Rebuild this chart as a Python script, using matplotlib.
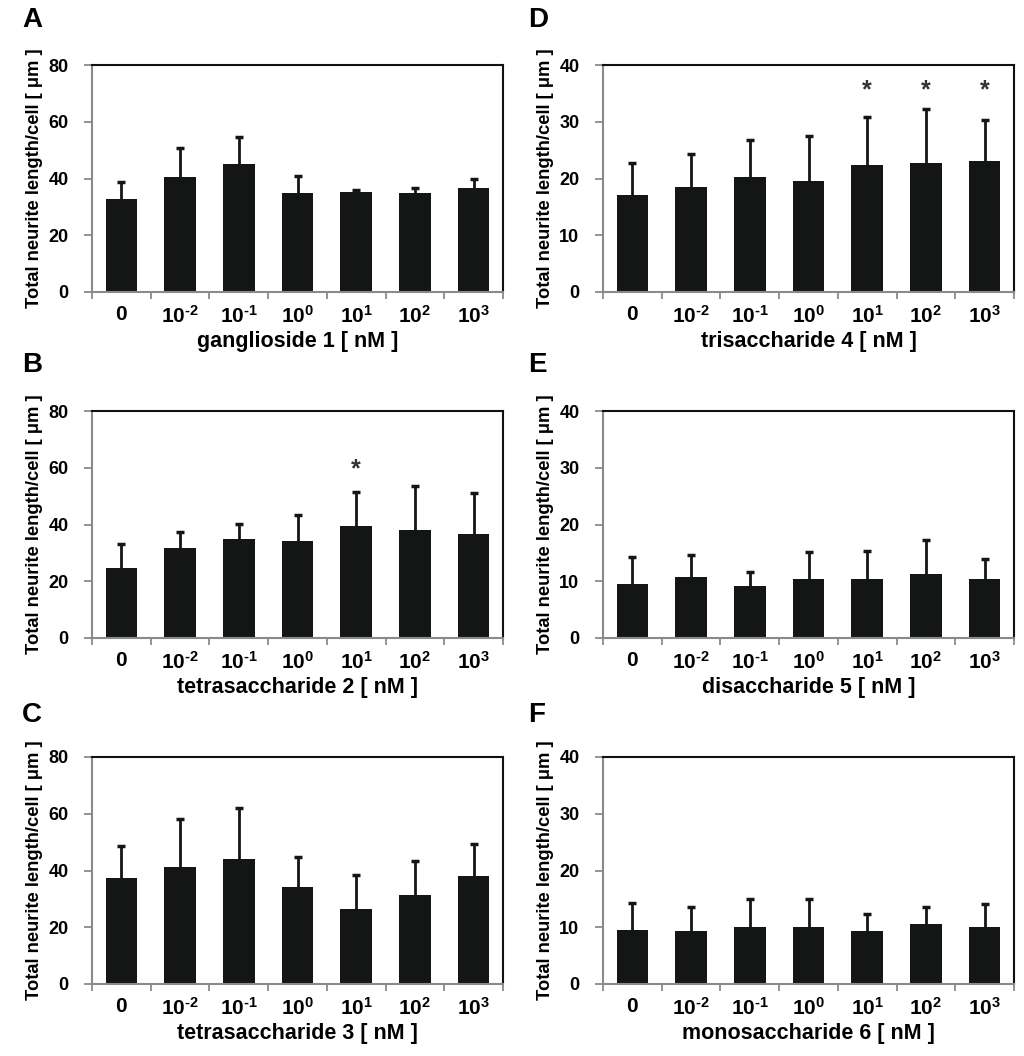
import numpy as np
import matplotlib
matplotlib.use("Agg")
import matplotlib.pyplot as plt

plt.rcParams['font.family'] = ['Liberation Sans', 'DejaVu Sans']
plt.rcParams['font.weight'] = 'bold'
plt.rcParams['axes.labelweight'] = 'bold'
plt.rcParams['mathtext.fontset'] = 'custom'
plt.rcParams['mathtext.rm'] = 'Liberation Sans:bold'
plt.rcParams['mathtext.bf'] = 'Liberation Sans:bold'
plt.rcParams['mathtext.it'] = 'Liberation Sans:bold'
plt.rcParams['mathtext.default'] = 'regular'

conc_labels = ['0', r'10$^{\text{-2}}$', r'10$^{\text{-1}}$', r'10$^{0}$',
               r'10$^{1}$', r'10$^{2}$', r'10$^{3}$']

# means and tops of the (upper only) error bars
mean_A = [32.8, 40.4, 45.1, 34.8, 35.3, 34.8, 36.7]
top_A = [38.8, 50.8, 54.8, 40.9, 36.1, 36.5, 39.9]
mean_B = [24.7, 31.7, 35.0, 34.1, 39.3, 37.9, 36.6]
top_B = [33.2, 37.3, 40.2, 43.2, 51.3, 53.5, 51.0]
mean_C = [37.4, 41.3, 44.1, 34.1, 26.5, 31.4, 38.0]
top_C = [48.7, 58.2, 62.2, 44.6, 38.5, 43.5, 49.2]
mean_D = [17.1, 18.5, 20.2, 19.5, 22.4, 22.8, 23.0]
top_D = [22.7, 24.3, 26.7, 27.5, 30.9, 32.2, 30.3]
mean_E = [9.5, 10.7, 9.1, 10.4, 10.4, 11.2, 10.4]
top_E = [14.2, 14.7, 11.7, 15.2, 15.4, 17.3, 14.0]
mean_F = [9.5, 9.4, 10.0, 10.0, 9.4, 10.5, 10.0]
top_F = [14.2, 13.5, 14.9, 14.9, 12.3, 13.5, 14.1]

stars_B = [4]
stars_D = [4, 5, 6]

panels = [
    ('A', 'ganglioside 1 [ nM ]', mean_A, top_A, 80, [], 0),
    ('B', 'tetrasaccharide 2 [ nM ]', mean_B, top_B, 80, stars_B, 59.5),
    ('C', 'tetrasaccharide 3 [ nM ]', mean_C, top_C, 80, [], 0),
    ('D', 'trisaccharide 4 [ nM ]', mean_D, top_D, 40, stars_D, 35.6),
    ('E', 'disaccharide 5 [ nM ]', mean_E, top_E, 40, [], 0),
    ('F', 'monosaccharide 6 [ nM ]', mean_F, top_F, 40, [], 0),
]

W, H = 1024, 1056
fig = plt.figure(figsize=(W / 100, H / 100), dpi=100)

lefts = [92, 92, 92, 603, 603, 603]
tops = [65, 411, 757, 65, 411, 757]
ax_w, ax_h = 411, 227
letter_x = [22, 22, 22, 528, 528, 528]
letter_y = [7, 352, 702, 7, 352, 702]

gray = '#8a8a8a'
x = np.arange(7)

for i, (letter, xlab, means, tops_e, ymax, stars, star_y) in enumerate(panels):
    ax = fig.add_axes([lefts[i] / W, 1 - (tops[i] + ax_h) / H, ax_w / W, ax_h / H])
    means = np.array(means)
    err = np.array(tops_e) - means
    ax.bar(x, means, width=0.54, color='#141615', zorder=2)
    eb = ax.errorbar(x, means, yerr=[np.zeros(7), err], fmt='none', ecolor='#141615',
                     elinewidth=2, capsize=3, capthick=2.5, zorder=3)
    # keep only the upper caps
    eb[1][0].remove()
    for s in stars:
        ax.text(x[s], star_y, '*', ha='center', va='center', fontsize=18,
                color='#333333', fontweight='bold')
    ax.set_xlim(-0.5, 6.5)
    ax.set_ylim(0, ymax)
    ax.set_yticks(np.linspace(0, ymax, 5))
    ax.set_yticklabels([f'{int(v)}' for v in np.linspace(0, ymax, 5)], fontsize=13)
    ax.set_xticks(np.arange(-0.5, 7, 1))
    ax.set_xticklabels([])
    ax.set_xticks(x, minor=True)
    ax.set_xticklabels(conc_labels, minor=True, fontsize=15)
    ax.tick_params(axis='x', which='minor', length=0, pad=9)
    ax.tick_params(axis='x', which='major', length=5, width=1.3, color=gray, direction='out')
    ax.tick_params(axis='y', length=6, width=1.3, color=gray, direction='out', pad=11)
    for side in ['left', 'bottom']:
        ax.spines[side].set_color(gray)
        ax.spines[side].set_linewidth(1.5)
    for side in ['top', 'right']:
        ax.spines[side].set_color('#111111')
        ax.spines[side].set_linewidth(1.5)
    ax.set_xlabel(xlab, fontsize=15.5, labelpad=3)
    ax.set_ylabel('Total neurite length/cell [ μm ]', fontsize=13.2, labelpad=4)
    fig.text(letter_x[i] / W, 1 - letter_y[i] / H, letter, fontsize=20,
             fontweight='bold', ha='left', va='top')

fig.savefig('out.png', dpi=100)
